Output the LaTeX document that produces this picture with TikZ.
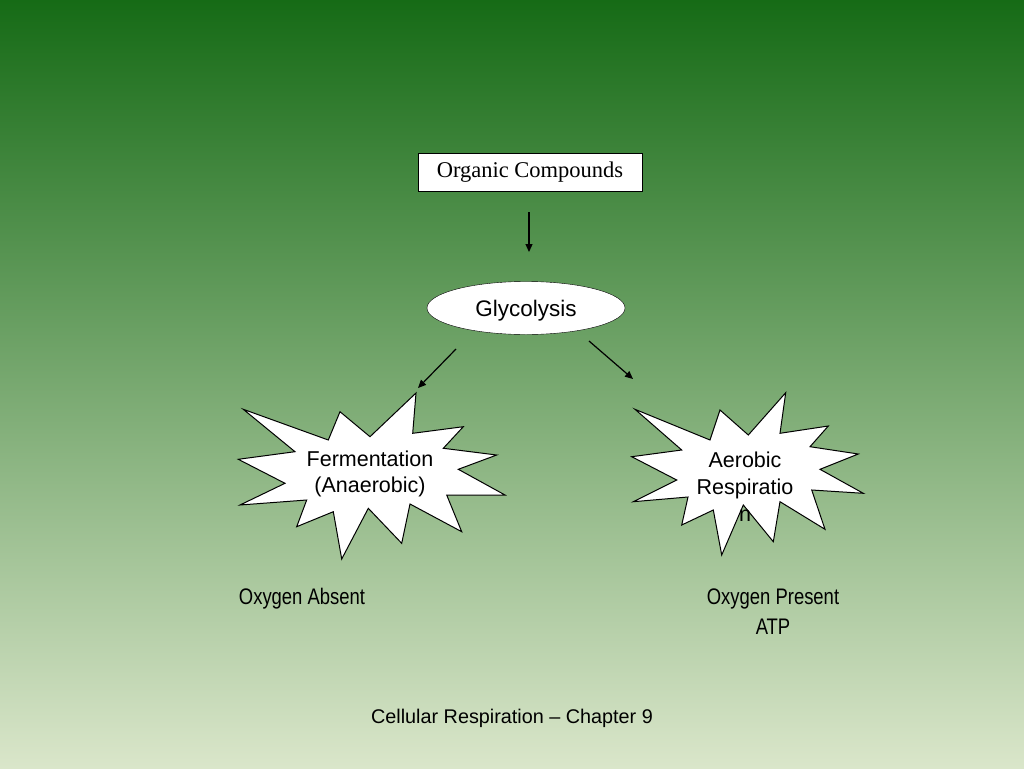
\documentclass[tikz,border=0pt]{standalone}
\usepackage{fontspec}
\setmainfont{Liberation Sans}
\newfontfamily\timesfont{Liberation Serif}
\newfontfamily\narrowfont[FakeStretch=0.82]{Liberation Sans}
\usetikzlibrary{arrows.meta,shapes.geometric}
\definecolor{slidetop}{RGB}{22,107,22}
\definecolor{slidemid}{RGB}{155,182,108}
\definecolor{slidebot}{RGB}{218,230,202}
\begin{document}
\begin{tikzpicture}[x=1pt,y=-1pt]
\tikzstyle{every node}+=[inner sep=0pt]
\tikzstyle{arrow}=[black, line width=1.2pt, -{Triangle[length=8pt,width=7pt]}]
\tikzstyle{burst}=[black, line width=1pt, fill=white]
\tikzstyle{label}=[font=\fontsize{21.5}{26.5}\selectfont, align=center]
\tikzstyle{narrow}=[font=\narrowfont\fontsize{22.5}{30}\selectfont, align=center]
\shade [top color=slidetop, middle color=slidemid, bottom color=slidebot] (0,0) rectangle (1024,768);
% top of the chart
\node [draw=black, fill=white, minimum width=224pt, minimum height=38pt, font=\timesfont\fontsize{22.5}{27}\selectfont] (org) at (530,172) {Organic Compounds};
\node [draw=black, fill=white, ellipse, minimum width=198pt, minimum height=53pt, text depth=0pt, font=\fontsize{22.5}{27}\selectfont] (gly) at (526,308) {Glycolysis};
\coordinate (down1) at (529,212);
\coordinate (down2) at (529,252);
\coordinate (left1) at (456,349);
\coordinate (left2) at (418,388);
\coordinate (right1) at (589,341);
\coordinate (right2) at (633,379);
\draw [arrow] (down1) -- (down2);
\draw [arrow] (left1) -- (left2);
\draw [arrow] (right1) -- (right2);
% the two bursts
\draw [burst] (416,393) -- (412.7,433.3) -- (463.3,426.7) -- (443.3,448.3) -- (496.7,455) -- (458.3,469.3) -- (505,495) -- (446.7,495) -- (461.7,531.7) -- (410,504) -- (401.7,543.3) -- (368.3,508.3) -- (341.7,559) -- (333.3,511.7) -- (296.7,526.7) -- (306.7,500) -- (240,505) -- (285,483.3) -- (238.3,459.3) -- (295,451.7) -- (243.3,409.3) -- (328.3,440) -- (340,411.7) -- (370,436.7) -- cycle;
\node [label] (ferm) at (370,474) {Fermentation\\(Anaerobic)};
\draw [burst] (785.7,392.7) -- (780,433.3) -- (828.3,426) -- (810,446.7) -- (858.3,454) -- (820,469.3) -- (863.3,493.3) -- (811.7,490) -- (825,529.3) -- (780,501.7) -- (773.3,541.7) -- (743.3,505) -- (721.7,555) -- (713.3,510) -- (681.7,525) -- (688,497) -- (633.3,501.7) -- (676.7,480) -- (631.7,456.7) -- (681.7,450) -- (635,409.3) -- (710,440) -- (720,410) -- (748.3,435) -- cycle;
\node [label, font=\fontsize{21.5}{27}\selectfont] (aero) at (745,487) {Aerobic\\Respiratio\\n};
% conditions
\node [narrow] (absent) at (302,599) {Oxygen Absent};
\node [narrow] (present) at (773,612) {Oxygen Present\\ATP};
\node [font=\fontsize{19.8}{24}\selectfont] (footer) at (512,718) {Cellular Respiration -- Chapter 9};
\end{tikzpicture}
\end{document}
